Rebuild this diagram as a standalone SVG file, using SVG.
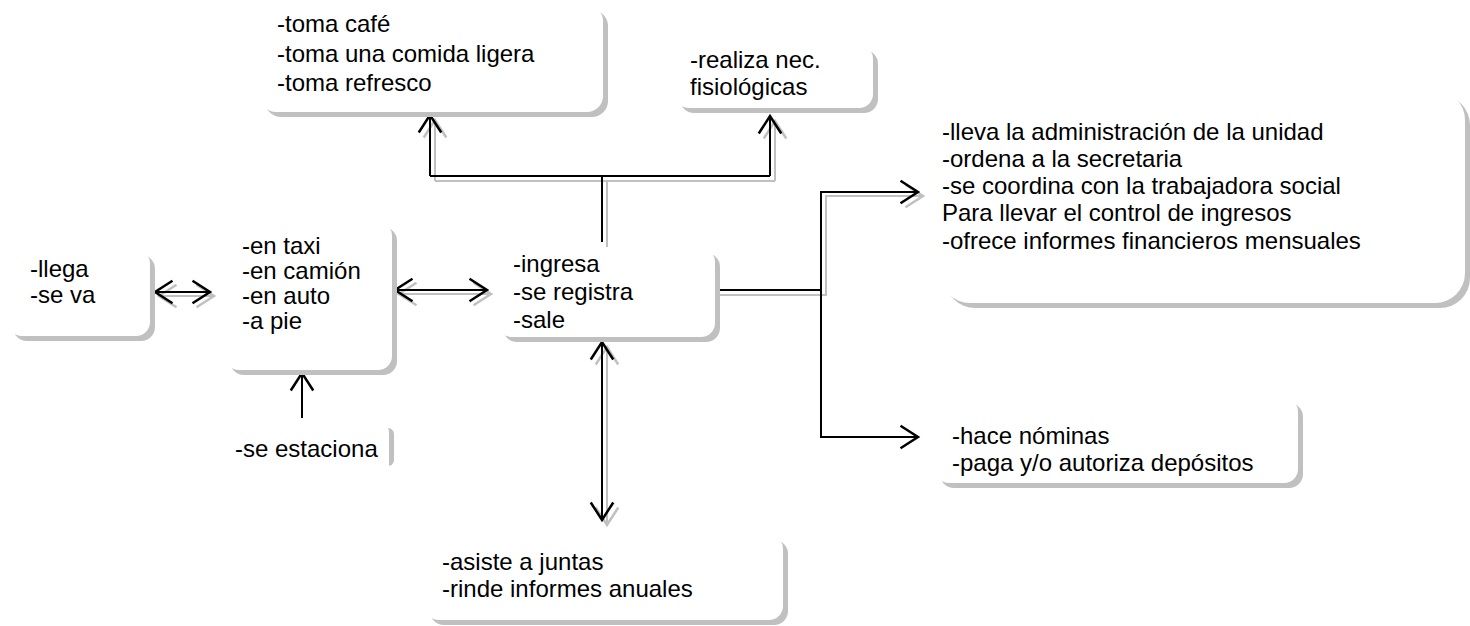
<svg xmlns="http://www.w3.org/2000/svg" width="1470" height="626" viewBox="0 0 1470 626">
<style>
.sh{fill:#c0c0c0}
.bx{fill:#ffffff}
.t{font-family:"Liberation Sans",Arial,sans-serif;font-size:24px;fill:#000}
.ln{fill:none;stroke:#000;stroke-width:2}
.ls{fill:none;stroke:#c0c0c0;stroke-width:2}
</style>
<defs>
<marker id="ab" markerUnits="userSpaceOnUse" markerWidth="30" markerHeight="30" refX="0" refY="0" viewBox="-16 -12 20 24" orient="auto-start-reverse"><path d="M-14,-9 L0,0 L-14,9" fill="none" stroke="#000" stroke-width="2"/></marker>
<marker id="ag" markerUnits="userSpaceOnUse" markerWidth="30" markerHeight="30" refX="0" refY="0" viewBox="-16 -12 20 24" orient="auto-start-reverse"><path d="M-14,-9 L0,0 L-14,9" fill="none" stroke="#c0c0c0" stroke-width="2"/></marker>
</defs>
<rect width="1470" height="626" fill="#fff"/>
<g id="connectors">
<line class="ls" x1="159" y1="296" x2="214" y2="296" marker-start="url(#ag)" marker-end="url(#ag)"/>
<line class="ls" x1="399" y1="294" x2="491" y2="294" marker-start="url(#ag)" marker-end="url(#ag)"/>
<path class="ls" d="M607,247 V181"/>
<path class="ls" d="M435,181 H775"/>
<path class="ls" d="M435,181 V120" marker-end="url(#ag)"/>
<path class="ls" d="M775,181 V121" marker-end="url(#ag)"/>
<path class="ls" d="M720,295 H826 V196 H923" marker-end="url(#ag)"/>
<line class="ls" x1="607" y1="347" x2="607" y2="525" marker-start="url(#ag)" marker-end="url(#ag)"/>
<line class="ln" x1="155" y1="292" x2="210" y2="292" marker-start="url(#ab)" marker-end="url(#ab)"/>
<line class="ln" x1="395" y1="290" x2="487" y2="290" marker-start="url(#ab)" marker-end="url(#ab)"/>
<path class="ln" d="M302,418 V373" marker-end="url(#ab)"/>
<path class="ln" d="M602,242 V176"/>
<path class="ln" d="M430,176 H770"/>
<path class="ln" d="M430,176 V115" marker-end="url(#ab)"/>
<path class="ln" d="M770,176 V116" marker-end="url(#ab)"/>
<path class="ln" d="M715,290 H821 V192 H918" marker-end="url(#ab)"/>
<path class="ln" d="M821,290 V437 H918" marker-end="url(#ab)"/>
<line class="ln" x1="602" y1="342" x2="602" y2="520" marker-start="url(#ab)" marker-end="url(#ab)"/>
</g>
<g id="n-llega">
<rect class="sh" x="13" y="255" width="142" height="86" rx="14"/>
<rect class="bx" x="8" y="250" width="142" height="86" rx="14"/>
<text class="t" x="30" y="277">-llega</text>
<text class="t" x="30" y="303">-se va</text>
</g>
<g id="n-transporte">
<rect class="sh" x="230" y="227" width="167" height="148" rx="14"/>
<rect class="bx" x="225" y="222" width="167" height="148" rx="14"/>
<text class="t" x="242" y="254">-en taxi</text>
<text class="t" x="242" y="279">-en camión</text>
<text class="t" x="242" y="304">-en auto</text>
<text class="t" x="242" y="329">-a pie</text>
</g>
<g id="n-estaciona">
<rect class="sh" x="227" y="428" width="167" height="38" rx="6"/>
<rect class="bx" x="222" y="424" width="167" height="50" rx="8"/>
<text class="t" x="235" y="457">-se estaciona</text>
</g>
<g id="n-ingresa">
<rect class="sh" x="503" y="253" width="217" height="89" rx="14"/>
<rect class="bx" x="498" y="248" width="217" height="89" rx="14"/>
<text class="t" x="513" y="272">-ingresa</text>
<text class="t" x="513" y="300">-se registra</text>
<text class="t" x="513" y="328">-sale</text>
</g>
<g id="n-toma">
<rect class="sh" x="265" y="10" width="343" height="107" rx="16"/>
<rect class="bx" x="260" y="5" width="343" height="107" rx="16"/>
<text class="t" x="277" y="32">-toma café</text>
<text class="t" x="277" y="62">-toma una comida ligera</text>
<text class="t" x="277" y="91">-toma refresco</text>
</g>
<g id="n-realiza">
<rect class="sh" x="680" y="50" width="198" height="63" rx="14"/>
<rect class="bx" x="675" y="45" width="198" height="63" rx="14"/>
<text class="t" x="690" y="68">-realiza nec.</text>
<text class="t" x="690" y="95">fisiológicas</text>
</g>
<g id="n-administracion">
<rect class="sh" x="945" y="95" width="525" height="213" rx="30"/>
<rect class="bx" x="940" y="90" width="525" height="213" rx="30"/>
<text class="t" x="942" y="140">-lleva la administración de la unidad</text>
<text class="t" x="942" y="167">-ordena a la secretaria</text>
<text class="t" x="942" y="194">-se coordina con la trabajadora social</text>
<text class="t" x="942" y="221">Para llevar el control de ingresos</text>
<text class="t" x="942" y="249">-ofrece informes financieros mensuales</text>
</g>
<g id="n-nominas">
<rect class="sh" x="940" y="403" width="363" height="85" rx="14"/>
<rect class="bx" x="935" y="398" width="363" height="85" rx="14"/>
<text class="t" x="952" y="444">-hace nóminas</text>
<text class="t" x="952" y="471">-paga y/o autoriza depósitos</text>
</g>
<g id="n-juntas">
<rect class="sh" x="430" y="540" width="358" height="85" rx="14"/>
<rect class="bx" x="425" y="535" width="358" height="85" rx="14"/>
<text class="t" x="442" y="570">-asiste a juntas</text>
<text class="t" x="442" y="597">-rinde informes anuales</text>
</g>
</svg>
